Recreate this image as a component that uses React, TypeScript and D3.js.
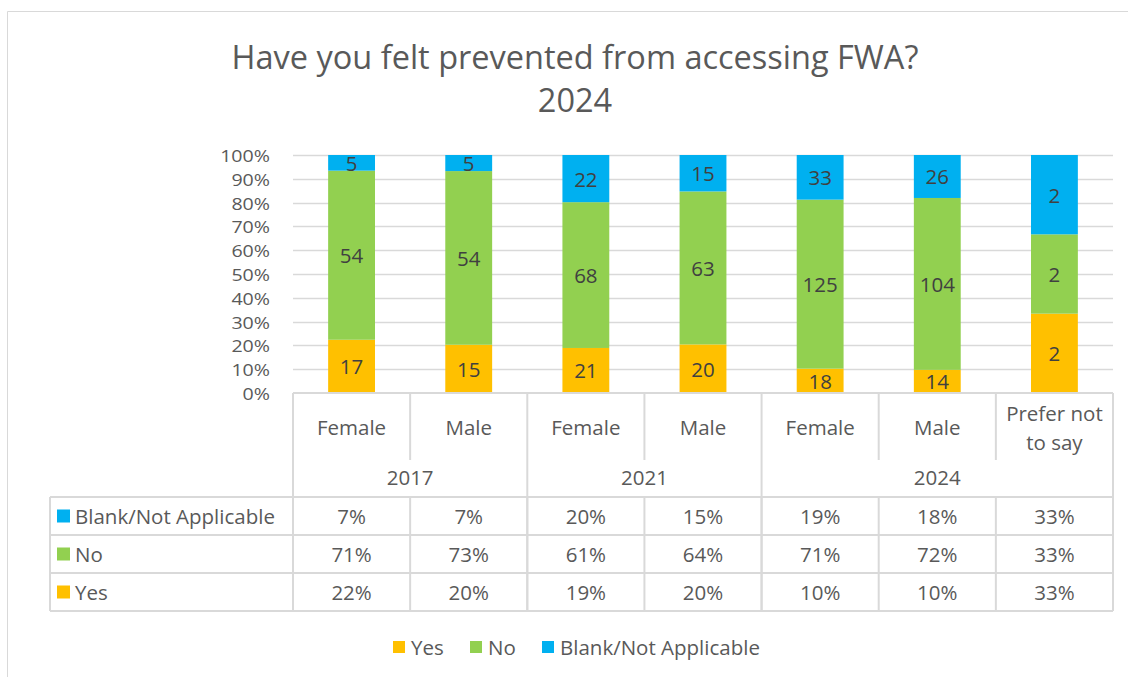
import React from "react";
import * as d3 from "d3";

const categories = ["Female", "Male", "Female", "Male", "Female", "Male", "Prefer not to say"];
const categoryLines = [["Female"], ["Male"], ["Female"], ["Male"], ["Female"], ["Male"], ["Prefer not", "to say"]];
const years = ["2017", "2021", "2024"];
const yearSpans = [2, 2, 3];
const yesValues = [17, 15, 21, 20, 18, 14, 2];
const noValues = [54, 54, 68, 63, 125, 104, 2];
const blankValues = [5, 5, 22, 15, 33, 26, 2];
const seriesNames = ["Yes", "No", "Blank/Not Applicable"];
const seriesColors = ["#FFC000", "#92D050", "#00B0F0"];
const yTicks = [0, 0.1, 0.2, 0.3, 0.4, 0.5, 0.6, 0.7, 0.8, 0.9, 1];
const titleLines = ["Have you felt prevented from accessing FWA?", "2024"];

const FONT = "'Open Sans', sans-serif";
const TXT = "#595959";
const GRID = "#D9D9D9";

export default function App() {
  const W = 1128, H = 677;
  const left = 293, right = 1113, top = 155, bottom = 393;
  const x = d3.scaleBand<number>().domain(d3.range(categories.length)).range([left, right]).paddingInner(0.6).paddingOuter(0.3);
  const y = d3.scaleLinear().domain([0, 1]).range([bottom, top]);
  const step = x.step();
  const series = [yesValues, noValues, blankValues];
  const totals = categories.map((_, i) => series.reduce((s, arr) => s + arr[i], 0));
  const table = categories.map((_, i) => {
    const obj: any = { i };
    seriesNames.forEach((n, k) => (obj[n] = series[k][i] / totals[i]));
    return obj;
  });
  const stack = d3.stack<any>().keys(seriesNames)(table);
  const pct = d3.format(".0%");
  const boundary = (i: number) => left + i * step;

  const headerMid = 460;
  const rowLines = [497, 535, 573, 611];
  const tableLeft = 50;
  const tableOrder = [2, 1, 0];
  const groupBounds: number[] = [0];
  yearSpans.reduce((acc, s) => { groupBounds.push(acc + s); return acc + s; }, 0);

  const legendItems = [
    { k: 0, x: 393 },
    { k: 1, x: 470 },
    { k: 2, x: 542 },
  ];
  const FS = 20.5;

  return (
    <div style={{ position: "absolute", left: 0, top: 0 }}>
      <svg width={W} height={H} style={{ display: "block", fontFamily: FONT }}>
        <rect x={0} y={0} width={W} height={H} fill="#fff" />
        <path d={`M7.5,${H} V11.5 H${W}`} fill="none" stroke={GRID} strokeWidth={1} />
        {titleLines.map((t, i) => (
          <text key={i} x={575} y={56 + i * 43} textAnchor="middle" dominantBaseline="central" fontSize={32.5} fill={TXT}>{t}</text>
        ))}
        {yTicks.slice(1).map((t) => (
          <line key={t} x1={left} x2={right} y1={Math.round(y(t)) + 0.5} y2={Math.round(y(t)) + 0.5} stroke={GRID} strokeWidth={1.5} />
        ))}
        {yTicks.map((t) => (
          <text key={"l" + t} transform={`translate(270,${y(t)}) scale(1.14,1)`} textAnchor="end" dominantBaseline="central" fontSize={17.2} fill={TXT}>{pct(t)}</text>
        ))}
        {stack.map((s, k) => (
          <g key={k}>
            {s.map((d, i) => (
              <g key={i}>
                <rect x={x(i)!} width={x.bandwidth()} y={y(d[1])} height={y(d[0]) - y(d[1])} fill={seriesColors[k]} />
                <text x={x(i)! + x.bandwidth() / 2} y={(y(d[0]) + y(d[1])) / 2} textAnchor="middle" dominantBaseline="central" fontSize={FS} fill="#404040">{series[k][i]}</text>
              </g>
            ))}
          </g>
        ))}
        <g stroke={GRID} strokeWidth={2} fill="none">
          <line x1={left} x2={right} y1={bottom} y2={bottom} />
          {d3.range(categories.length + 1).map((i) => (
            <line key={i} x1={boundary(i)} x2={boundary(i)} y1={bottom} y2={groupBounds.includes(i) ? rowLines[rowLines.length - 1] : headerMid} />
          ))}
          {d3.range(categories.length - 1).map((i) => (
            <line key={"t" + i} x1={boundary(i + 1)} x2={boundary(i + 1)} y1={rowLines[0]} y2={rowLines[rowLines.length - 1]} />
          ))}
          {rowLines.map((ly) => (
            <line key={ly} x1={tableLeft} x2={right} y1={ly} y2={ly} />
          ))}
          <line x1={tableLeft} x2={tableLeft} y1={rowLines[0]} y2={rowLines[rowLines.length - 1]} />
        </g>
        {categoryLines.map((lines, i) => (
          <text key={i} x={x(i)! + x.bandwidth() / 2} y={427 - (lines.length - 1) * 14.5} textAnchor="middle" dominantBaseline="central" fontSize={FS} fill={TXT}>
            {lines.map((l, j) => (
              <tspan key={j} x={x(i)! + x.bandwidth() / 2} dy={j === 0 ? 0 : 29}>{l}</tspan>
            ))}
          </text>
        ))}
        {years.map((yr, g) => (
          <text key={yr} x={(boundary(groupBounds[g]) + boundary(groupBounds[g + 1])) / 2} y={477} textAnchor="middle" dominantBaseline="central" fontSize={FS} fill={TXT}>{yr}</text>
        ))}
        {tableOrder.map((k, r) => {
          const cy = (rowLines[r] + rowLines[r + 1]) / 2;
          return (
            <g key={k}>
              <rect x={57} y={cy - 6.5} width={13} height={13} fill={seriesColors[k]} />
              <text x={75} y={cy} dominantBaseline="central" fontSize={FS} fill={TXT}>{seriesNames[k]}</text>
              {table.map((row, i) => (
                <text key={i} x={x(i)! + x.bandwidth() / 2} y={cy} textAnchor="middle" dominantBaseline="central" fontSize={FS} fill={TXT}>{pct(row[seriesNames[k]])}</text>
              ))}
            </g>
          );
        })}
        {legendItems.map(({ k, x: lx }) => (
          <g key={k}>
            <rect x={lx} y={641} width={12} height={12} fill={seriesColors[k]} />
            <text x={lx + 18} y={647} dominantBaseline="central" fontSize={FS} fill={TXT}>{seriesNames[k]}</text>
          </g>
        ))}
      </svg>
    </div>
  );
}
